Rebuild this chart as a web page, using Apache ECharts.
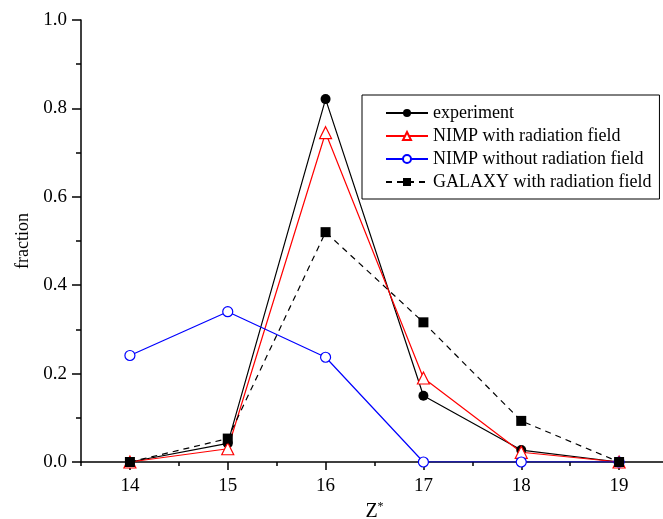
<!DOCTYPE html>
<html>
<head>
<meta charset="utf-8">
<script src="https://cdn.jsdelivr.net/npm/echarts@6/dist/echarts.min.js"></script>
<style>
html, body { margin: 0; padding: 0; background: #fff; }
#chart { width: 663px; height: 519px; }
</style>
</head>
<body>
<div id="chart"></div>
<script>
var zValues = [14, 15, 16, 17, 18, 19];
var experiment = [0.0, 0.042, 0.821, 0.15, 0.027, 0.0];
var nimpWith = [0.0, 0.03, 0.745, 0.19, 0.022, 0.0];
var nimpWithout = [0.241, 0.34, 0.237, 0.0, 0.0, 0.0];
var galaxy = [0.0, 0.053, 0.52, 0.316, 0.093, 0.0];
var xMajorTicks = [14, 15, 16, 17, 18, 19];
var xMinorTicks = [13.5, 14.5, 15.5, 16.5, 17.5, 18.5, 19.5];
var seriesNames = ['experiment', 'NIMP with radiation field', 'NIMP without radiation field', 'GALAXY with radiation field'];

function pairs(vals) {
    var out = [];
    for (var i = 0; i < zValues.length; i++) {
        out.push([zValues[i], vals[i]]);
    }
    return out;
}

var font = 'Liberation Serif';
var chart = echarts.init(document.getElementById('chart'));
chart.setOption({
    animation: false,
    backgroundColor: '#fff',
    textStyle: { fontFamily: font },
    grid: { left: 81, top: 20, width: 587, height: 442, outerBoundsMode: 'none', containLabel: false },
    legend: {
        orient: 'vertical',
        left: 362,
        top: 95,
        data: seriesNames,
        borderColor: '#000',
        borderWidth: 1,
        padding: [9, 8, 8, 23],
        itemWidth: 42,
        itemHeight: 10,
        itemGap: 5,
        textStyle: { fontFamily: font, fontSize: 18, lineHeight: 18, color: '#000' }
    },
    xAxis: [{
        type: 'value',
        min: 13.5,
        max: 19.5,
        interval: 0.5,
        name: '{z|Z}{s|*}',
        nameLocation: 'middle',
        nameGap: 38,
        nameTextStyle: {
            rich: {
                z: { fontFamily: font, fontSize: 20, color: '#000' },
                s: { fontFamily: font, fontSize: 12, color: '#000', verticalAlign: 'top', padding: [0, 0, 10, 0] }
            }
        },
        axisLine: { onZero: false, lineStyle: { color: '#000', width: 1.5 } },
        axisTick: { customValues: xMajorTicks, length: 8, lineStyle: { color: '#000', width: 1.5 } },
        axisLabel: { customValues: xMajorTicks, margin: 15, fontFamily: font, fontSize: 19, color: '#000' },
        splitLine: { show: false }
    }, {
        type: 'value',
        min: 13.5,
        max: 19.5,
        interval: 0.5,
        position: 'bottom',
        axisLine: { show: false },
        axisTick: { customValues: xMinorTicks, length: 4, lineStyle: { color: '#000', width: 1.5 } },
        axisLabel: { show: false },
        splitLine: { show: false }
    }],
    yAxis: {
        type: 'value',
        min: 0,
        max: 1,
        interval: 0.2,
        name: 'fraction',
        nameLocation: 'middle',
        nameGap: 46,
        nameTextStyle: { fontFamily: font, fontSize: 18, color: '#000' },
        axisLine: { show: true, lineStyle: { color: '#000', width: 1.5 } },
        axisTick: { show: true, length: 9, lineStyle: { color: '#000', width: 1.5 } },
        minorTick: { show: true, splitNumber: 2, length: 5, lineStyle: { color: '#000', width: 1.5 } },
        axisLabel: {
            margin: 14, fontFamily: font, fontSize: 19, color: '#000',
            formatter: function (v) { return v.toFixed(1); }
        },
        splitLine: { show: false }
    },
    series: [{
        name: seriesNames[0],
        type: 'line',
        data: pairs(experiment),
        symbol: 'circle',
        symbolSize: 10,
        itemStyle: { color: '#000' },
        lineStyle: { color: '#000', width: 1.2 }
    }, {
        name: seriesNames[1],
        type: 'line',
        data: pairs(nimpWith),
        symbol: 'triangle',
        symbolSize: 12,
        itemStyle: { color: '#fff', borderColor: '#ff0000', borderWidth: 1.2 },
        lineStyle: { color: '#ff0000', width: 1.2 }
    }, {
        name: seriesNames[2],
        type: 'line',
        data: pairs(nimpWithout),
        symbol: 'circle',
        symbolSize: 10,
        itemStyle: { color: '#fff', borderColor: '#0000ff', borderWidth: 1.2 },
        lineStyle: { color: '#0000ff', width: 1.2 }
    }, {
        name: seriesNames[3],
        type: 'line',
        data: pairs(galaxy),
        symbol: 'rect',
        symbolSize: 10,
        itemStyle: { color: '#000' },
        lineStyle: { color: '#000', width: 1.2, type: [6, 5] }
    }]
});
</script>
</body>
</html>
